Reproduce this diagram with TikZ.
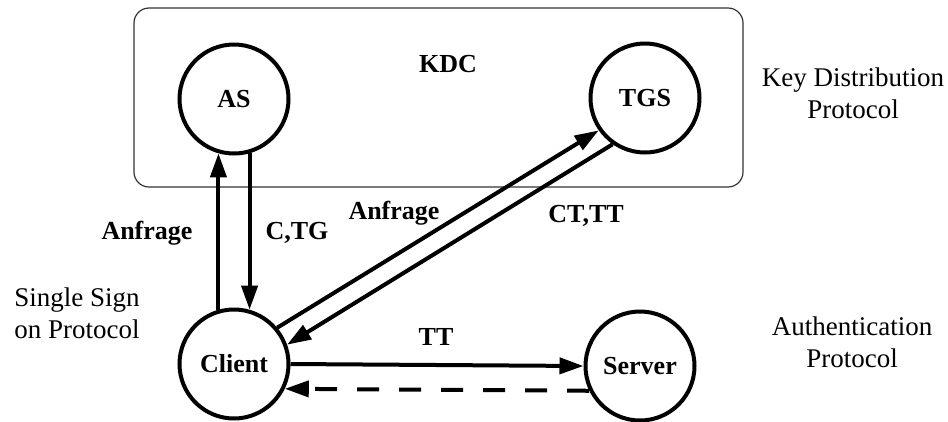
\documentclass[tikz,border=0pt]{standalone}
\usepackage{fontspec}
\setmainfont{Liberation Serif}
\usetikzlibrary{arrows.meta}
\begin{document}
\begin{tikzpicture}[x=1pt,y=-1pt,
  party/.style={circle,draw,line width=4pt,minimum size=109pt,inner sep=0pt,
    font=\fontsize{26}{28}\selectfont\bfseries},
  lbl/.style={font=\fontsize{26}{28}\selectfont\bfseries,inner sep=0pt},
  note/.style={font=\fontsize{27}{32}\selectfont,align=center,inner sep=0pt},
  msg/.style={line width=4pt,-{Triangle[length=24pt,width=16pt]}},
  reply/.style={line width=4pt,dash pattern=on 22pt off 20pt,-{Triangle[length=24pt,width=16pt]}}
]
\useasboundingbox (0,0) rectangle (948,421);
\draw[black!80,line width=1.2pt,rounded corners=15pt] (134,8) rectangle (743,187);
\node[party] (as) at (234,99) {AS};
\node[party] (tgs) at (645,98) {TGS};
\node[party] (client) at (234,364) {Client};
\node[party] (server) at (640,366) {Server};
\node[lbl] (kdc) at (448,64) {KDC};
\node[note] (kdp) at (853,93) {Key Distribution\\Protocol};
\node[note] (sso) at (77,313) {Single Sign\\on Protocol};
\node[note] (ap) at (852,342) {Authentication\\Protocol};
\draw[msg] (client.106) -- (as.254);
\draw[msg] (as.286) -- (client.74);
\draw[msg] (client.40) -- (tgs.215);
\draw[msg] (tgs.235) -- (client.20);
\draw[msg] (client.east) -- (server.west);
\draw[reply] (server.206) -- (client.334);
\node[lbl] (l1) at (147,233) {Anfrage};
\node[lbl] (l2) at (297,233) {C,TG};
\node[lbl] (l3) at (394,213) {Anfrage};
\node[lbl] (l4) at (586,216) {CT,TT};
\node[lbl] (l5) at (436,337) {TT};
\end{tikzpicture}
\end{document}
